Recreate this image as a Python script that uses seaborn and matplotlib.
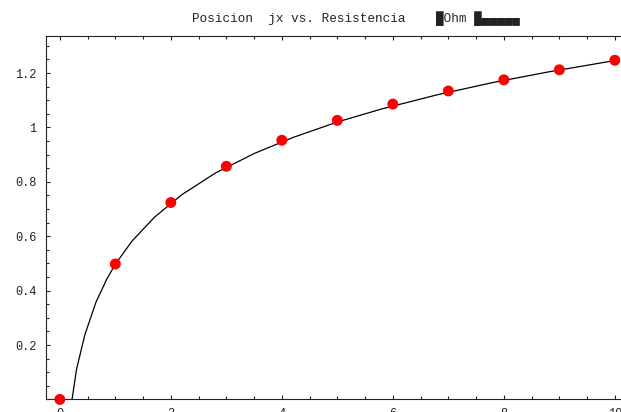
import numpy as np
import pandas as pd
import matplotlib
matplotlib.use("Agg")
import matplotlib.pyplot as plt
from matplotlib.ticker import MultipleLocator, FuncFormatter
import seaborn as sns

# measured points (posicion jx, resistencia)
pos_x = [0, 1, 2, 3, 4, 5, 6, 7, 8, 9, 10]
res_y = [0.0, 0.498, 0.724, 0.857, 0.953, 1.026, 1.086, 1.134, 1.175, 1.212, 1.247]

# fitted curve
curve_x = [0.22, 0.30, 0.45, 0.65, 0.85, 1.0, 1.3, 1.7, 2.2, 2.8, 3.5, 4.2, 5.0,
           5.8, 6.8, 7.8, 8.8, 9.8, 10.1]
curve_y = [0.0, 0.11, 0.237, 0.357, 0.444, 0.497, 0.582, 0.669, 0.753, 0.832, 0.904,
           0.963, 1.020, 1.068, 1.120, 1.165, 1.204, 1.239, 1.249]

x_ticks = [0, 2, 4, 6, 8, 10]
y_ticks = [0.2, 0.4, 0.6, 0.8, 1.0, 1.2]

title = "Posicion  jx vs. Resistencia    \u2588Ohm \u2588\u2584\u2584\u2584\u2584\u2584"

sns.set_style("ticks")
plt.rcParams["font.family"] = ["Liberation Mono", "DejaVu Sans Mono"]
plt.rcParams["font.size"] = 8.6

pts = pd.DataFrame({"x": pos_x, "y": res_y})
fit = pd.DataFrame({"x": curve_x, "y": curve_y})

fig = plt.figure(figsize=(6.21, 4.12), dpi=100)
ax = fig.add_axes([0.074, 0.0305, 0.925, 0.882])

sns.lineplot(data=fit, x="x", y="y", color="black", linewidth=0.9, ax=ax, sort=False)
sns.scatterplot(data=pts, x="x", y="y", color="#ff0000", s=62, edgecolor="none",
                ax=ax, clip_on=False, zorder=5)

ax.set_xlim(-0.25, 10.1)
ax.set_ylim(0, 1.336)
ax.set_xticks(x_ticks)
ax.set_yticks(y_ticks)
ax.xaxis.set_minor_locator(MultipleLocator(0.5))
ax.yaxis.set_minor_locator(MultipleLocator(0.05))
fmt = FuncFormatter(lambda v, p: ("%g" % v))
ax.xaxis.set_major_formatter(fmt)
ax.yaxis.set_major_formatter(fmt)
ax.tick_params(which="both", direction="in", top=True, right=False, color="#222222",
               width=0.8, labelcolor="#222222")
ax.tick_params(which="major", length=3.2)
ax.tick_params(which="minor", length=2.0)
ax.tick_params(axis="y", pad=7)
ax.tick_params(axis="x", pad=6.5)
for s in ["left", "bottom", "top"]:
    ax.spines[s].set_linewidth(0.8)
    ax.spines[s].set_color("#222222")
ax.spines["right"].set_visible(False)
ax.set_xlabel("")
ax.set_ylabel("")

fig.text(192 / 621, 1 - 19 / 412, title, ha="left", va="center", fontsize=9.1,
         color="#222222")

fig.savefig("out.png", dpi=100)
